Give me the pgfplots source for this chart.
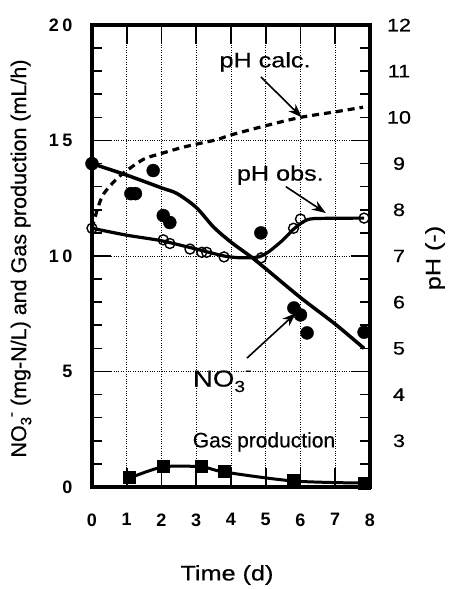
\documentclass[border=0pt]{standalone}
\usepackage{fontspec}
\setmainfont{Liberation Sans}
\newfontfamily\wide{Liberation Sans}[FakeStretch=1.2, FakeBold=0.5]
\newfontfamily\plain{Liberation Sans}[FakeBold=0.4]
\newfontfamily\tickfont{Liberation Sans}[LetterSpace=20]
\usepackage{pgfplots}
\pgfplotsset{compat=1.18}
\usetikzlibrary{arrows.meta}
\newcommand{\fs}[1]{\fontsize{#1}{#1}\selectfont}
\begin{document}
\begin{tikzpicture}
\useasboundingbox (0,0) rectangle (448pt,589pt);
\begin{axis}[
  at={(92pt,102pt)}, anchor=south west, scale only axis,
  width=278pt, height=462pt,
  xmin=0, xmax=8, ymin=0, ymax=20, clip=false,
  xtick={0,1,2,3,4,5,6,7,8}, xticklabels={0,1,2,3,4,5,6,7,8},
  ytick={0,5,10,15,20}, yticklabels={0,5,10,15,20},
  minor ytick={1,2,3,4,6,7,8,9,11,12,13,14,16,17,18,19},
  tick align=inside, xtick pos=both, ytick pos=both,
  major tick length=19pt, minor tick length=10pt,
  every tick/.style={black, line width=1.6pt},
  axis line style={line width=3.3pt},
  grid=major, major grid style={black, dotted, line width=0.9pt},
  xticklabel style={font=\fs{18}\bfseries, yshift=-23pt},
  yticklabel style={font=\tickfont\fs{18}\bfseries, xshift=-16pt},
]
% NO3 model
\addplot[black, line width=3.5pt, smooth, tension=0.5] coordinates {
 (0,14) (1,13.5) (2,12.95) (2.45,12.7) (3,12.1) (3.5,11.25) (4,10.6)
 (4.58,9.96) (5,9.45) (6,8.2) (7,7.05) (7.83,6.0)};
% NO3 observed
\addplot[black, only marks, mark=*, mark size=6.5pt] coordinates {
 (0,14) (1.12,12.7) (1.25,12.7) (1.76,13.7) (2.05,11.75) (2.24,11.45)
 (4.86,11.0) (5.81,7.75) (6.0,7.45) (6.19,6.67) (7.83,6.7)};
% Gas production
\addplot[black, line width=3pt, smooth, tension=0.5, mark=square*, mark size=5pt] coordinates {
 (1.09,0.39) (2.05,0.87) (3.16,0.87) (3.8,0.65) (5.8,0.26) (7.83,0.17)};
% annotations
\node[font=\wide\fs{21}] at (axis cs:4.98,18.4) {pH calc.};
\draw[black, line width=1.6pt, -{Stealth[length=14pt,width=10pt]}] (axis cs:4.86,17.75) -- (axis cs:6.04,16.0);
\node[font=\wide\fs{21}] at (axis cs:5.42,13.5) {pH obs.};
\draw[black, line width=1.6pt, -{Stealth[length=14pt,width=10pt]}] (axis cs:5.58,13.0) -- (axis cs:6.73,11.86);
\node[font=\wide\fs{23}, anchor=base west, inner sep=0pt] at (axis cs:2.9,4.35) {NO\raisebox{-0.45ex}{\fs{16}3}\raisebox{0.9ex}{\fs{16}-}};
\draw[black, line width=1.6pt, -{Stealth[length=14pt,width=10pt]}] (axis cs:4.46,5.58) -- (axis cs:5.87,7.53);
\node[font=\plain\fs{21}] at (axis cs:4.95,1.95) {Gas production};
\end{axis}
\begin{axis}[
  at={(92pt,102pt)}, anchor=south west, scale only axis,
  width=278pt, height=462pt,
  xmin=0, xmax=8, ymin=2, ymax=12, clip=false,
  axis x line=none, axis y line*=right,
  y axis line style={draw=none},
  ytick={3,4,5,6,7,8,9,10,11,12}, yticklabels={3,4,5,6,7,8,9,10,11,12},
  major tick length=0pt,
  yticklabel style={font=\wide\fs{18}, anchor=center, xshift=29pt},
]
% pH calculated
\addplot[black, line width=3.2pt, dash pattern=on 7pt off 5pt, smooth, tension=0.5] coordinates {
 (0,7.6) (0.15,8.0) (0.3,8.3) (0.5,8.5) (0.75,8.7) (1,8.85) (1.5,9.1) (2,9.22)
 (2.6,9.35) (3,9.42) (3.6,9.52) (4,9.62) (5,9.82) (6,10.0) (7,10.12) (7.8,10.22)};
% pH observed line
\addplot[black, line width=3.2pt, smooth, tension=0.4] coordinates {
 (0,7.6) (1,7.45) (2,7.33) (3,7.15) (3.8,7.0) (4.3,6.96) (4.8,6.98) (5.1,7.1)
 (5.5,7.35) (5.8,7.58) (6.1,7.75) (6.4,7.81) (7.83,7.82)};
% pH observed points
\addplot[black, only marks, mark=o, mark size=5pt, mark options={line width=1.4pt}] coordinates {
 (0,7.6) (2.05,7.35) (2.24,7.27) (2.82,7.15) (3.16,7.08) (3.3,7.08) (3.8,6.98)
 (4.87,6.96) (5.8,7.6) (6.0,7.8) (7.83,7.82)};
\end{axis}
\node[font=\plain\fs{21.5}, rotate=90] at (21pt,330.5pt) {NO\raisebox{-0.45ex}{\fs{15}3}\raisebox{0.9ex}{\fs{15}-} (mg-N/L) and Gas production (mL/h)};
\node[font=\wide\fs{21}, rotate=90] at (435pt,331pt) {pH (-)};
\node[font=\wide\fs{21}] at (227pt,14pt) {Time (d)};
\end{tikzpicture}
\end{document}
